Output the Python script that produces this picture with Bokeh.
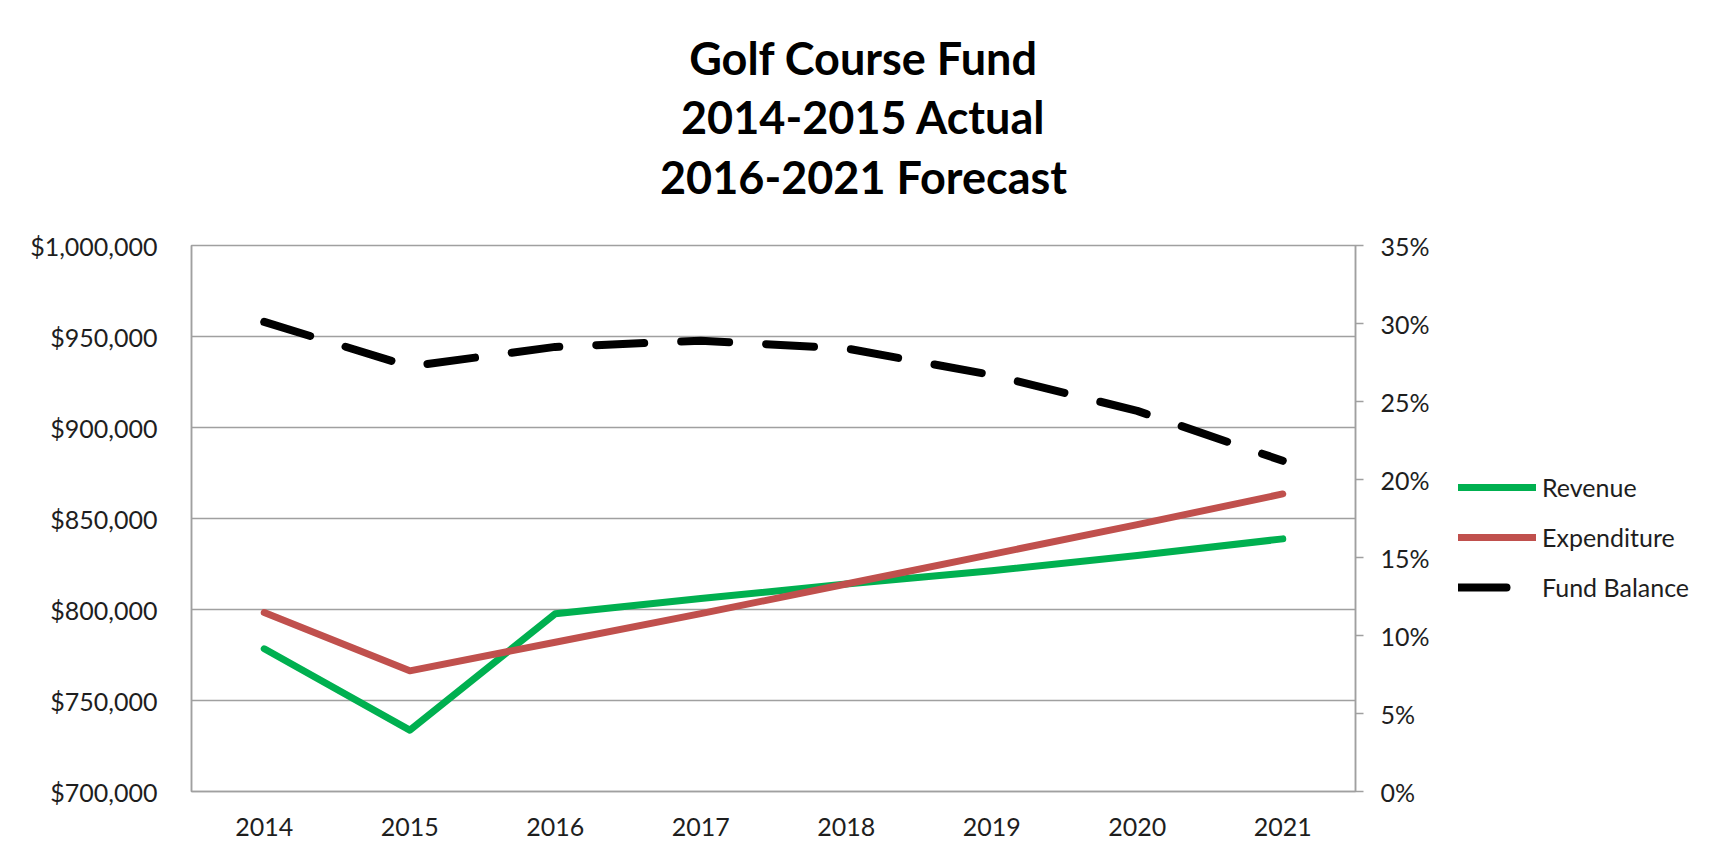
from bokeh.plotting import figure
from bokeh.models import (FactorRange, Range1d, LinearAxis, FixedTicker, NumeralTickFormatter,
                          Legend, LegendItem, ColumnDataSource)
from bokeh.layouts import column, row
from bokeh.core.properties import value
from bokeh.embed import file_html
from bokeh.resources import INLINE

years = ["2014", "2015", "2016", "2017", "2018", "2019", "2020", "2021"]
revenue = [778400, 733700, 797700, 806000, 814000, 821300, 829700, 838800]
expenditure = [798300, 766300, 782000, 797700, 814000, 830300, 846600, 863500]
fund_balance = [0.301, 0.2725, 0.285, 0.289, 0.284, 0.267, 0.244, 0.212]
title_lines = ["Golf Course Fund", "2014-2015 Actual", "2016-2021 Forecast"]
series_names = ["Revenue", "Expenditure", "Fund Balance"]
series_colors = ["#00B050", "#C0504D", "black"]

FONT = "Lato"
TXT = "#1e1e1e"
GRID = "#a0a0a0"
W, H = 1725, 859
TH = 210          # height of the title block
CW = 1440         # width of the chart figure
LW = W - CW       # width of the legend block


def bare(fig):
    fig.outline_line_color = None
    fig.xgrid.grid_line_color = None
    fig.ygrid.grid_line_color = None
    return fig


# ---- title block ----
t = bare(figure(width=W, height=TH, x_range=Range1d(0, W), y_range=Range1d(TH, 0),
                output_backend="svg", toolbar_location=None, x_axis_type=None, y_axis_type=None,
                min_border=0, min_border_left=0, min_border_right=0, min_border_top=0, min_border_bottom=0))
t.text(x=[863, 863, 863], y=[57, 116, 176], text=title_lines,
       text_align="center", text_baseline="alphabetic",
       text_font=value(FONT), text_font_style="bold", text_font_size="45px", text_color="black")

# ---- chart ----
src = ColumnDataSource(dict(year=years, rev=revenue, exp=expenditure, fb=fund_balance))

p = figure(width=CW, height=H - TH, x_range=FactorRange(factors=years, range_padding=0),
           y_range=Range1d(700000, 1000000), output_backend="svg", toolbar_location=None,
           min_border_left=191, min_border_right=85, min_border_top=35, min_border_bottom=68,
           background_fill_color="white", border_fill_color="white")
p.extra_y_ranges = {"pct": Range1d(0, 0.35)}

p.outline_line_color = GRID
p.outline_line_width = 1.5

ya = p.yaxis[0]
ya.ticker = FixedTicker(ticks=[700000, 750000, 800000, 850000, 900000, 950000, 1000000])
ya.formatter = NumeralTickFormatter(format="$0,0")
ya.major_tick_out = 0
ya.major_tick_in = 0
ya.minor_tick_out = 0
ya.minor_tick_in = 0
ya.axis_line_color = GRID
ya.axis_line_width = 1.5
ya.major_label_standoff = 34
ya.major_label_text_font = FONT
ya.major_label_text_font_size = "25px"
ya.major_label_text_color = TXT

xa = p.xaxis[0]
xa.major_tick_out = 0
xa.major_tick_in = 0
xa.axis_line_color = GRID
xa.axis_line_width = 1.5
xa.major_label_standoff = 26
xa.major_label_text_font = FONT
xa.major_label_text_font_size = "25px"
xa.major_label_text_color = TXT

ra = LinearAxis(y_range_name="pct", ticker=FixedTicker(ticks=[0, 0.05, 0.1, 0.15, 0.2, 0.25, 0.3, 0.35]),
                formatter=NumeralTickFormatter(format="0%"))
ra.major_tick_out = 8
ra.major_tick_in = 0
ra.minor_tick_out = 0
ra.minor_tick_in = 0
ra.major_tick_line_color = GRID
ra.major_tick_line_width = 1.5
ra.axis_line_color = GRID
ra.axis_line_width = 1.5
ra.major_label_standoff = 17
ra.major_label_text_font = FONT
ra.major_label_text_font_size = "25px"
ra.major_label_text_color = TXT
p.add_layout(ra, "right")

p.xgrid.grid_line_color = None
p.ygrid.grid_line_color = GRID
p.ygrid.grid_line_width = 1.5

line_styles = [dict(line_color=series_colors[0], line_width=7),
               dict(line_color=series_colors[1], line_width=7),
               dict(line_color=series_colors[2], line_width=8, line_dash="48 37")]

p.line("year", "rev", source=src, line_cap="round", line_join="round", **line_styles[0])
p.line("year", "exp", source=src, line_cap="round", line_join="round", **line_styles[1])
p.line("year", "fb", source=src, y_range_name="pct", line_cap="round", line_join="round", **line_styles[2])

# ---- legend block (legend sits outside the plot area, to the right) ----
lg = bare(figure(width=LW, height=H - TH, x_range=Range1d(0, 1), y_range=Range1d(0, 1),
                 output_backend="svg", toolbar_location=None, x_axis_type=None, y_axis_type=None,
                 min_border=0, min_border_left=0, min_border_right=0, min_border_top=0, min_border_bottom=0))
items = []
for name, st in zip(series_names, line_styles):
    # proxy renderers carry the series styles for the legend; their points lie off-canvas
    r = lg.line(x=[5, 6], y=[5, 6], line_cap="round", **st)
    items.append(LegendItem(label=name, renderers=[r]))
legend = Legend(items=items, location=(18, 179), orientation="vertical",
                glyph_width=78, glyph_height=50, label_height=50, spacing=0, padding=0, margin=0,
                label_standoff=6, label_text_font=FONT, label_text_font_size="25px",
                label_text_color=TXT, border_line_color=None, background_fill_alpha=0)
lg.add_layout(legend, "center")

layout = column(t, row(p, lg, spacing=0), spacing=0)
open("out.html", "w").write(file_html(layout, INLINE))
